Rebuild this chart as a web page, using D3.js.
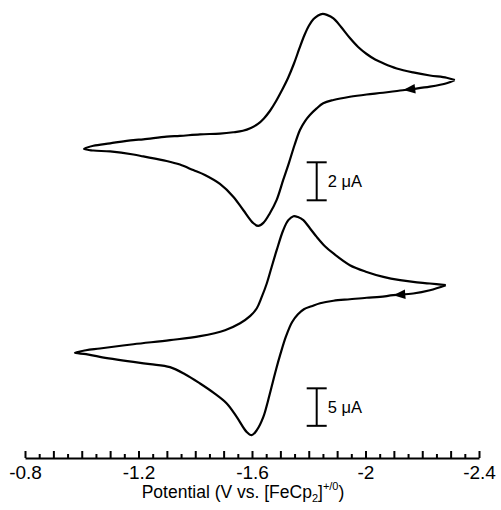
<!DOCTYPE html>
<html>
<head>
<meta charset="utf-8">
<script src="https://cdn.jsdelivr.net/npm/d3@7"></script>
<style>
  body { margin: 0; background: #fff; }
  text { font-family: "Liberation Sans", Arial, Helvetica, sans-serif; fill: #000; }
</style>
</head>
<body>
<svg id="chart" width="501" height="510"></svg>
<script>
// Upper voltammogram: potential (V vs. FeCp2+/0) and current (µA),
// starting at the negative switching potential and following the arrow.
const topPotential = [
  -2.315, -2.286, -2.227, -2.168, -2.122, -2.062, -2.004, -1.945, -1.887, -1.851,
  -1.828, -1.804, -1.787, -1.769, -1.750, -1.730, -1.710, -1.687, -1.663, -1.640,
  -1.622, -1.605, -1.569, -1.534, -1.487, -1.434, -1.393, -1.346, -1.299, -1.217,
  -1.182, -1.100, -1.041, -1.008,
  -1.041, -1.100, -1.182, -1.217, -1.299, -1.346, -1.417, -1.487, -1.534, -1.568,
  -1.596, -1.621, -1.642, -1.663, -1.684, -1.705, -1.727, -1.748, -1.767, -1.785,
  -1.801, -1.817, -1.833, -1.849, -1.864, -1.887, -1.914, -1.945, -1.974, -2.004,
  -2.034, -2.063, -2.110, -2.168, -2.227, -2.286, -2.315
];
const topCurrent = [
  3.63, 3.46, 3.28, 3.16, 3.08, 2.96, 2.87, 2.75, 2.58, 2.41,
  2.14, 1.79, 1.47, 1.00, 0.21, -0.74, -1.63, -2.68, -3.38, -3.89,
  -4.05, -3.91, -3.21, -2.51, -1.84, -1.37, -1.11, -0.82, -0.63, -0.39,
  -0.29, -0.13, -0.08, 0.00,
  0.17, 0.30, 0.47, 0.51, 0.65, 0.69, 0.77, 0.81, 0.88, 0.96,
  1.11, 1.32, 1.61, 2.00, 2.50, 3.08, 3.74, 4.50, 5.29, 6.00,
  6.50, 6.84, 7.03, 7.11, 7.06, 6.88, 6.42, 5.84, 5.37, 5.00,
  4.71, 4.51, 4.24, 4.03, 3.87, 3.75, 3.63
];
const topReturnEnd = 33;          // index of the positive switching point
const topArrowPotential = -2.133;
const topScaleBar = [-2.7, -0.7]; // 2 µA
const topScaleLabel = "2 μA";

// Lower voltammogram
const bottomPotential = [
  -2.283, -2.227, -2.168, -2.098, -2.051, -2.004, -1.945, -1.887, -1.840, -1.810,
  -1.783, -1.762, -1.741, -1.720, -1.699, -1.686, -1.675, -1.657, -1.640, -1.617,
  -1.599, -1.581, -1.546, -1.511, -1.464, -1.417, -1.364, -1.311, -1.241, -1.182,
  -1.064, -1.015, -0.976,
  -1.015, -1.064, -1.182, -1.311, -1.417, -1.505, -1.558, -1.593, -1.617, -1.634,
  -1.652, -1.669, -1.687, -1.710, -1.728, -1.746, -1.762, -1.781, -1.804, -1.828,
  -1.857, -1.887, -1.945, -2.004, -2.063, -2.122, -2.168, -2.227, -2.283
];
const bottomCurrent = [
  9.00, 8.33, 7.89, 7.67, 7.44, 7.33, 7.13, 6.93, 6.60, 6.20,
  5.80, 5.13, 4.07, 2.20, -0.33, -2.07, -3.67, -6.33, -8.56, -10.33,
  -11.00, -10.56, -8.56, -6.77, -5.33, -4.11, -2.87, -1.93, -1.53, -1.23,
  -0.56, -0.20, 0.00,
  0.33, 0.56, 1.13, 1.67, 2.20, 3.00, 3.93, 4.87, 5.93, 7.40,
  9.23, 11.40, 13.67, 16.33, 17.67, 18.20, 18.09, 17.67, 16.60, 15.44,
  14.20, 13.23, 11.67, 10.77, 10.11, 9.67, 9.44, 9.23, 9.00
];
const bottomReturnEnd = 32;
const bottomArrowPotential = -2.098;
const bottomScaleBar = [-9.75, -4.75]; // 5 µA
const bottomScaleLabel = "5 μA";

// Axis ticks
const majorTicks = d3.range(0, 17).map(k => +(-0.8 - 0.1 * k).toFixed(2));
const minorTicks = d3.range(0, 16).map(k => +(-0.85 - 0.1 * k).toFixed(2));
const labelValues = [-0.8, -1.2, -1.6, -2.0, -2.4];
const labelTexts = ["-0.8", "-1.2", "-1.6", "-2", "-2.4"];
const scaleBarPotential = -1.828;

const svg = d3.select("#chart");

const x = d3.scaleLinear().domain([-0.8, -2.4]).range([25, 479]);
const yTop = d3.scaleLinear().domain([-4.5, 7.5]).range([234.5, 6.5]);
const yBottom = d3.scaleLinear().domain([-12, 19]).range([442.7, 210.2]);

function drawTrace(potential, current, y, returnEnd, arrowE, bar, barLabel) {
  const pts = potential.map((e, i) => [e, current[i]]);
  const line = d3.line()
    .x(d => x(d[0]))
    .y(d => y(d[1]))
    .curve(d3.curveCatmullRom.alpha(0.5));

  svg.append("path")
    .datum(pts)
    .attr("d", line)
    .attr("fill", "none")
    .attr("stroke", "#000")
    .attr("stroke-width", 2.2)
    .attr("stroke-linejoin", "round");

  // Direction arrow on the return sweep
  for (let i = 0; i < returnEnd; i++) {
    const a = pts[i], b = pts[i + 1];
    if ((a[0] - arrowE) * (b[0] - arrowE) <= 0) {
      const t = (arrowE - a[0]) / (b[0] - a[0]);
      const cur = a[1] + t * (b[1] - a[1]);
      const px = x(arrowE), py = y(cur);
      const ang = Math.atan2(y(b[1]) - y(a[1]), x(b[0]) - x(a[0])) * 180 / Math.PI;
      svg.append("path")
        .attr("d", "M0,0 L12,-4.8 L12,4.8 Z")
        .attr("transform", `translate(${px},${py}) rotate(${ang + 180})`)
        .attr("fill", "#000");
      break;
    }
  }

  // Current scale bar
  const bx = x(scaleBarPotential);
  const y0 = y(bar[0]), y1 = y(bar[1]);
  const g = svg.append("g").attr("stroke", "#000").attr("stroke-width", 2);
  g.append("line").attr("x1", bx).attr("x2", bx).attr("y1", y0).attr("y2", y1);
  g.append("line").attr("x1", bx - 10).attr("x2", bx + 10).attr("y1", y0).attr("y2", y0);
  g.append("line").attr("x1", bx - 10).attr("x2", bx + 10).attr("y1", y1).attr("y2", y1);
  svg.append("text")
    .attr("x", bx + 11)
    .attr("y", (y0 + y1) / 2 + 6)
    .attr("font-size", 16.5)
    .text(barLabel);
}

drawTrace(topPotential, topCurrent, yTop, topReturnEnd, topArrowPotential, topScaleBar, topScaleLabel);
drawTrace(bottomPotential, bottomCurrent, yBottom, bottomReturnEnd, bottomArrowPotential, bottomScaleBar, bottomScaleLabel);

// Potential axis
const axisY = 458;
const labelFor = v => {
  const k = labelValues.findIndex(l => Math.abs(l - v) < 1e-6);
  return k >= 0 ? labelTexts[k] : "";
};
const axisMajor = d3.axisBottom(x)
  .tickValues(majorTicks)
  .tickSizeInner(-7)
  .tickSizeOuter(0)
  .tickPadding(8)
  .tickFormat(labelFor);
const gAxis = svg.append("g")
  .attr("transform", `translate(0,${axisY})`)
  .call(axisMajor);
gAxis.select(".domain").attr("stroke-width", 2).attr("stroke", "#000");
gAxis.selectAll(".tick line").attr("stroke-width", 2).attr("stroke", "#000");
gAxis.selectAll(".tick text")
  .attr("font-size", 19)
  .attr("font-family", "Liberation Sans, Arial, sans-serif")
  .attr("fill", "#000");

const axisMinor = d3.axisBottom(x)
  .tickValues(minorTicks)
  .tickSizeInner(-4)
  .tickSizeOuter(0)
  .tickFormat("");
const gMinor = svg.append("g")
  .attr("transform", `translate(0,${axisY})`)
  .call(axisMinor);
gMinor.select(".domain").remove();
gMinor.selectAll(".tick line").attr("stroke-width", 2).attr("stroke", "#000");

// Axis title with sub- and superscript
const title = svg.append("text")
  .attr("x", 243)
  .attr("y", 498)
  .attr("text-anchor", "middle")
  .attr("font-size", 17.5);
title.append("tspan").text("Potential (V vs. [FeCp");
title.append("tspan").attr("font-size", 11).attr("dy", 4).text("2");
title.append("tspan").attr("dy", -4).text("]");
title.append("tspan").attr("font-size", 11).attr("dy", -8).text("+/0");
title.append("tspan").attr("dy", 8).text(")");
</script>
</body>
</html>
